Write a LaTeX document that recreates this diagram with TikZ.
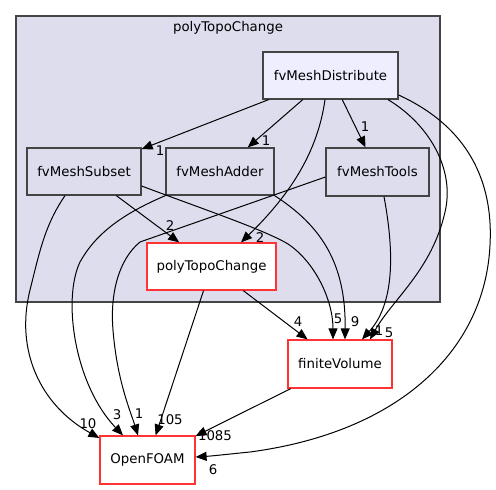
\documentclass[tikz,border=0pt]{standalone}
\usepackage{fontspec}
\setmainfont{DejaVu Sans}
\usetikzlibrary{arrows.meta,calc}
\definecolor{clfill}{HTML}{DDDDEE}
\definecolor{clline}{HTML}{444444}
\definecolor{topfill}{HTML}{EEEEFF}
\definecolor{redline}{HTML}{FF3333}
\begin{document}
\begin{tikzpicture}[x=0.75pt,y=-0.75pt,
  every node/.style={font=\fontsize{10}{12}\selectfont},
  inbox/.style={draw=clline,line width=0.9pt,fill=clfill,inner sep=0pt,minimum height=35.25pt},
  topbox/.style={inbox,fill=topfill},
  outbox/.style={draw=redline,line width=0.9pt,fill=white,inner sep=0pt,minimum height=36pt},
  dep/.style={draw=black,line width=0.75pt,-{Triangle[length=8.25pt,width=6.75pt]}},
  lab/.style={inner sep=0pt,font=\fontsize{10}{12}\selectfont}]
\useasboundingbox (0,0) rectangle (496,489);
% cluster
\draw[draw=clline,line width=0.9pt,fill=clfill] (16,16) rectangle (440,302);
\node[lab] (clusterlabel) at (228,28) {polyTopoChange};
% nodes
\node[topbox,minimum width=101.25pt] (dist) at (330.5,75.5) {fvMeshDistribute};
\node[inbox,minimum width=85.5pt] (sub) at (84,171.5) {fvMeshSubset};
\node[inbox,minimum width=81pt] (adder) at (220,171.5) {fvMeshAdder};
\node[inbox,minimum width=77.25pt,minimum height=36pt] (tools) at (377.5,172) {fvMeshTools};
\node[outbox,minimum width=96.75pt,minimum height=35.25pt] (poly) at (211.5,266.5) {polyTopoChange};
\node[outbox,minimum width=78pt] (fv) at (340,364) {finiteVolume};
\node[outbox,minimum width=71.25pt] (of) at (147.5,460) {OpenFOAM};
% edges
\draw[dep] (dist) -- (sub);
\draw[dep] (dist) -- (adder);
\draw[dep] (dist) -- (tools);
\draw[dep] ($(dist.south)+(-5.5,0)$) .. controls (318,150) and (292,193) .. ($(poly.north)+(29.5,0)$);
\draw[dep] ($(dist.south)+(57.5,0)$) .. controls (430,125) and (455,170) .. (445,212)
  .. controls (432,270) and (392,300) .. ($(fv.north)+(30,0)$);
\draw[dep] ($(dist.east)+(0,19.5)$) .. controls (475,130) and (493,190) .. (490,245)
  .. controls (485,350) and (400,432) .. (250,452) .. controls (230,454) and (212,456) .. ($(of.east)+(0,-3)$);
\draw[dep] (sub) -- (poly);
\draw[dep] ($(sub.east)+(0,14.5)$) .. controls (200,208) and (265,230) .. (288,244)
  .. controls (315,262) and (333,300) .. ($(fv.north)+(-7,0)$);
\draw[dep] ($(sub.south)+(-19,0)$) .. controls (45,225) and (40,250) .. (30,290)
  .. controls (15,350) and (40,405) .. ($(of.west)+(0,-22)$);
\draw[dep] (adder.south west) .. controls (120,215) and (95,235) .. (80,262)
  .. controls (62,300) and (75,385) .. ($(of.north)+(-24.5,0)$);
\draw[dep] (adder.south east) .. controls (320,225) and (346,262) .. ($(fv.north)+(5,0)$);
\draw[dep] ($(tools.west)+(0,5)$) -- (140,242) .. controls (118,260) and (110,295) .. (113,330)
  .. controls (117,380) and (130,410) .. ($(of.north)+(-9.5,0)$);
\draw[dep] ($(tools.south)+(6.5,0)$) .. controls (392,240) and (398,300) .. ($(fv.north)+(22,0)$);
\draw[dep] (poly) -- (fv);
\draw[dep] (poly) -- (of);
\draw[dep] (fv) -- (of);
% labels
\node[lab] (l1) at (160,151) {1};
\node[lab] (l2) at (266,141) {1};
\node[lab] (l3) at (365,127) {1};
\node[lab] (l4) at (260,238) {2};
\node[lab] (l5) at (389,333) {5};
\node[lab] (l6) at (213,470) {6};
\node[lab] (l7) at (170,226) {2};
\node[lab] (l8) at (338,319) {5};
\node[lab] (l9) at (88,424) {10};
\node[lab] (l10) at (117,415) {3};
\node[lab] (l11) at (355,322) {9};
\node[lab] (l12) at (139,414) {1};
\node[lab] (l13) at (379,331) {1};
\node[lab] (l14) at (298,322) {4};
\node[lab] (l15) at (170,420) {105};
\node[lab] (l16) at (215,436) {1085};
\end{tikzpicture}
\end{document}
